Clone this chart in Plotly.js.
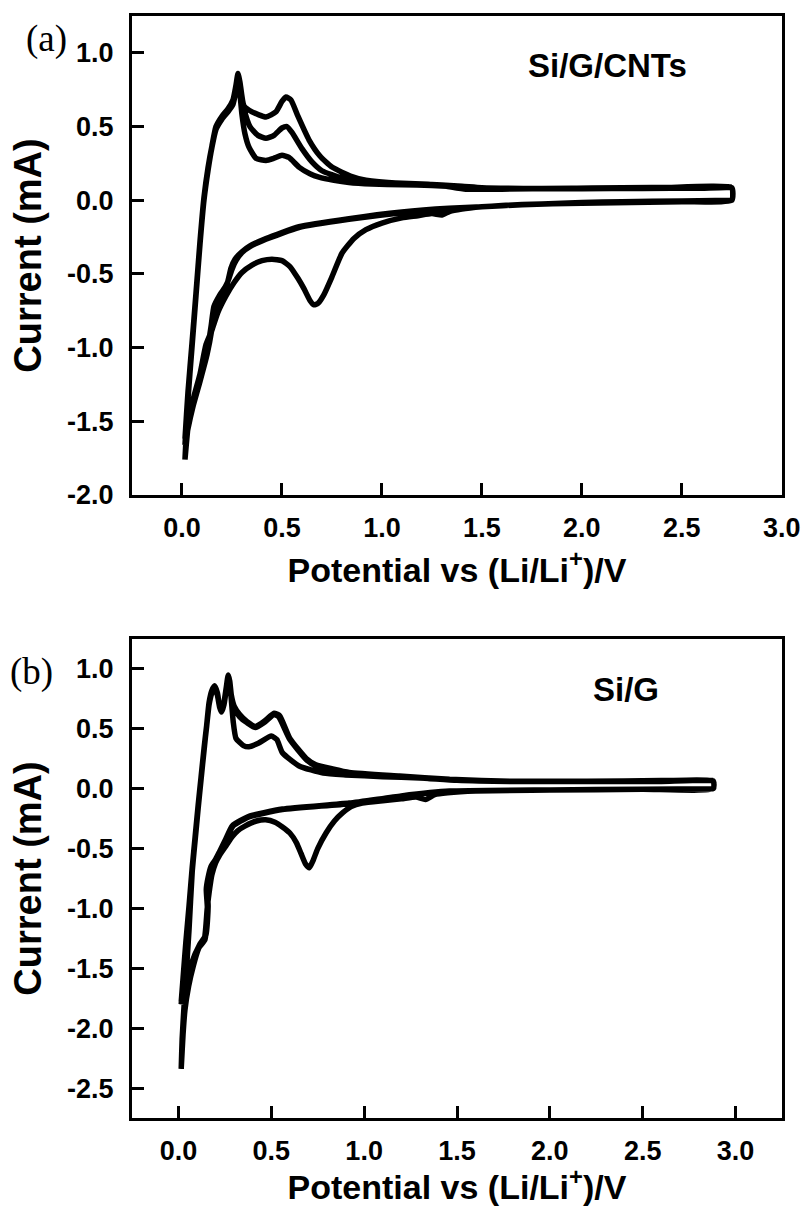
<!DOCTYPE html>
<html>
<head>
<meta charset="utf-8">
<script src="https://cdn.plot.ly/plotly-3.0.1.min.js"></script>
<style>html,body{margin:0;padding:0;background:#fff;}#chart{width:803px;height:1206px;}</style>
</head>
<body>
<div id="chart"></div>
<script>
// ---------- Panel (a): Si/G/CNTs ----------
const aCath1X = [2.75, 2.5, 2.2, 2.0, 1.8, 1.6, 1.5, 1.4, 1.34, 1.3, 1.25, 1.18, 1.1, 1.0, 0.92, 0.86, 0.8, 0.75, 0.71, 0.68, 0.66, 0.64, 0.61, 0.58, 0.54, 0.5, 0.45, 0.4, 0.35, 0.3, 0.26, 0.22, 0.18, 0.15, 0.12, 0.09, 0.06, 0.035, 0.015];
const aCath1Y = [0.0, -0.005, -0.01, -0.015, -0.025, -0.035, -0.045, -0.06, -0.075, -0.1, -0.09, -0.105, -0.12, -0.155, -0.2, -0.26, -0.36, -0.52, -0.64, -0.70, -0.71, -0.68, -0.6, -0.53, -0.45, -0.41, -0.40, -0.41, -0.44, -0.49, -0.56, -0.65, -0.76, -0.88, -0.98, -1.18, -1.33, -1.48, -1.76];
const aAnod1X = [0.015, 0.03, 0.05, 0.07, 0.09, 0.11, 0.13, 0.15, 0.17, 0.2, 0.23, 0.255, 0.27, 0.28, 0.29, 0.30, 0.315, 0.335, 0.37, 0.42, 0.46, 0.5, 0.535, 0.585, 0.64, 0.685, 0.76, 0.835, 0.95, 1.1, 1.25, 1.4, 1.5, 1.7, 2.0, 2.3, 2.6, 2.75];
const aAnod1Y = [-1.76, -1.35, -1.0, -0.65, -0.3, 0.0, 0.2, 0.36, 0.48, 0.55, 0.6, 0.65, 0.74, 0.82, 0.72, 0.58, 0.45, 0.36, 0.285, 0.27, 0.285, 0.305, 0.29, 0.225, 0.18, 0.157, 0.135, 0.12, 0.11, 0.105, 0.1, 0.09, 0.08, 0.078, 0.078, 0.08, 0.082, 0.08];
const aCath2X = [2.75, 2.5, 2.0, 1.7, 1.5, 1.335, 1.1, 0.835, 0.585, 0.42, 0.34, 0.30, 0.265, 0.245, 0.225, 0.19, 0.16, 0.145, 0.12, 0.085, 0.05, 0.03, 0.015];
const aCath2Y = [0.0, -0.01, -0.02, -0.03, -0.045, -0.055, -0.08, -0.125, -0.18, -0.26, -0.31, -0.35, -0.40, -0.46, -0.57, -0.64, -0.72, -0.86, -1.07, -1.25, -1.42, -1.55, -1.62];
const aAnod2X = [0.015, 0.03, 0.05, 0.07, 0.09, 0.11, 0.13, 0.15, 0.17, 0.2, 0.23, 0.255, 0.27, 0.28, 0.29, 0.31, 0.34, 0.38, 0.42, 0.46, 0.5, 0.525, 0.55, 0.6, 0.65, 0.7, 0.8, 0.9, 1.0, 1.2, 1.4, 1.5, 1.8, 2.1, 2.4, 2.75];
const aAnod2Y = [-1.62, -1.3, -0.97, -0.63, -0.28, 0.02, 0.22, 0.37, 0.49, 0.56, 0.6, 0.66, 0.76, 0.85, 0.76, 0.62, 0.5, 0.44, 0.42, 0.44, 0.49, 0.5, 0.46, 0.35, 0.26, 0.2, 0.15, 0.13, 0.12, 0.11, 0.095, 0.085, 0.08, 0.082, 0.085, 0.085];
const aCath3X = [2.75, 2.5, 2.0, 1.7, 1.5, 1.335, 1.1, 0.835, 0.585, 0.42, 0.34, 0.30, 0.27, 0.25, 0.23, 0.2, 0.165, 0.15, 0.125, 0.09, 0.055, 0.03, 0.015];
const aCath3Y = [0.0, -0.01, -0.02, -0.03, -0.045, -0.058, -0.085, -0.13, -0.185, -0.265, -0.315, -0.355, -0.41, -0.47, -0.55, -0.63, -0.72, -0.87, -1.05, -1.23, -1.4, -1.55, -1.66];
const aAnod3X = [0.015, 0.03, 0.05, 0.07, 0.09, 0.11, 0.13, 0.15, 0.17, 0.2, 0.23, 0.255, 0.27, 0.28, 0.29, 0.31, 0.35, 0.42, 0.47, 0.5, 0.52, 0.545, 0.58, 0.635, 0.69, 0.75, 0.85, 0.92, 1.085, 1.2, 1.3, 1.42, 1.6, 1.9, 2.2, 2.5, 2.75];
const aAnod3Y = [-1.66, -1.32, -0.98, -0.64, -0.29, 0.01, 0.21, 0.37, 0.5, 0.57, 0.62, 0.68, 0.78, 0.86, 0.8, 0.64, 0.6, 0.565, 0.6, 0.67, 0.70, 0.68, 0.57, 0.41, 0.3, 0.225, 0.16, 0.136, 0.115, 0.11, 0.1, 0.075, 0.075, 0.08, 0.085, 0.088, 0.09];

// ---------- Panel (b): Si/G ----------
const bCath1X = [2.88, 2.5, 2.0, 1.6, 1.45, 1.38, 1.33, 1.28, 1.2, 1.1, 0.99, 0.93, 0.885, 0.84, 0.795, 0.75, 0.725, 0.705, 0.685, 0.66, 0.635, 0.6, 0.56, 0.52, 0.47, 0.42, 0.36, 0.32, 0.29, 0.255, 0.22, 0.2, 0.18, 0.165, 0.155, 0.14, 0.11, 0.08, 0.055, 0.035, 0.025, 0.015];
const bCath1Y = [0.0, -0.005, -0.01, -0.02, -0.035, -0.05, -0.09, -0.07, -0.085, -0.1, -0.12, -0.15, -0.2, -0.27, -0.37, -0.5, -0.6, -0.66, -0.63, -0.54, -0.45, -0.37, -0.32, -0.28, -0.26, -0.27, -0.31, -0.35, -0.4, -0.48, -0.56, -0.62, -0.72, -0.87, -1.0, -1.25, -1.33, -1.48, -1.65, -1.85, -2.05, -2.34];
const bAnod1X = [0.015, 0.02, 0.03, 0.04, 0.057, 0.074, 0.09, 0.106, 0.122, 0.138, 0.152, 0.165, 0.18, 0.195, 0.21, 0.222, 0.232, 0.245, 0.258, 0.268, 0.276, 0.285, 0.295, 0.31, 0.35, 0.38, 0.43, 0.5, 0.53, 0.56, 0.65, 0.78, 0.9, 1.1, 1.3, 1.5, 1.8, 2.2, 2.6, 2.88];
const bAnod1Y = [-2.34, -2.09, -1.82, -1.59, -1.18, -0.7, -0.43, -0.17, 0.08, 0.32, 0.53, 0.72, 0.82, 0.86, 0.8, 0.68, 0.64, 0.7, 0.85, 0.95, 0.9, 0.74, 0.56, 0.42, 0.36, 0.35, 0.38, 0.44, 0.41, 0.3, 0.19, 0.13, 0.115, 0.1, 0.09, 0.07, 0.06, 0.06, 0.06, 0.06];
const bCath2X = [2.88, 2.5, 2.0, 1.46, 1.2, 0.92, 0.56, 0.38, 0.29, 0.255, 0.22, 0.2, 0.175, 0.16, 0.15, 0.156, 0.143, 0.11, 0.066, 0.039, 0.015];
const bCath2Y = [0.0, -0.005, -0.01, -0.02, -0.06, -0.12, -0.17, -0.23, -0.31, -0.42, -0.53, -0.59, -0.65, -0.74, -0.84, -1.0, -1.26, -1.33, -1.48, -1.67, -1.8];
const bAnod2X = [0.015, 0.025, 0.04, 0.057, 0.074, 0.09, 0.106, 0.122, 0.138, 0.152, 0.165, 0.18, 0.195, 0.21, 0.222, 0.232, 0.245, 0.258, 0.268, 0.276, 0.285, 0.3, 0.33, 0.37, 0.415, 0.46, 0.515, 0.54, 0.6, 0.69, 0.74, 0.83, 0.92, 1.19, 1.46, 1.8, 2.2, 2.6, 2.88];
const bAnod2Y = [-1.8, -1.6, -1.3, -1.0, -0.68, -0.42, -0.16, 0.09, 0.33, 0.52, 0.7, 0.8, 0.84, 0.78, 0.68, 0.65, 0.7, 0.83, 0.92, 0.88, 0.76, 0.67, 0.6, 0.55, 0.51, 0.55, 0.62, 0.6, 0.41, 0.24, 0.19, 0.16, 0.13, 0.1, 0.075, 0.06, 0.06, 0.065, 0.065];
const bCath3X = [2.88, 2.5, 2.0, 1.46, 1.2, 0.92, 0.56, 0.38, 0.295, 0.26, 0.225, 0.205, 0.18, 0.165, 0.155, 0.16, 0.148, 0.115, 0.07, 0.04, 0.015];
const bCath3Y = [0.0, -0.005, -0.012, -0.022, -0.062, -0.125, -0.175, -0.235, -0.31, -0.41, -0.52, -0.58, -0.64, -0.73, -0.83, -0.98, -1.22, -1.3, -1.46, -1.66, -1.78];
const bAnod3X = [0.015, 0.025, 0.04, 0.057, 0.074, 0.09, 0.106, 0.122, 0.138, 0.152, 0.165, 0.18, 0.195, 0.21, 0.222, 0.232, 0.245, 0.258, 0.268, 0.276, 0.285, 0.3, 0.33, 0.37, 0.415, 0.46, 0.515, 0.545, 0.6, 0.69, 0.74, 0.83, 0.92, 1.19, 1.46, 1.8, 2.2, 2.6, 2.88];
const bAnod3Y = [-1.78, -1.58, -1.28, -0.98, -0.66, -0.4, -0.14, 0.1, 0.34, 0.53, 0.71, 0.81, 0.85, 0.79, 0.69, 0.66, 0.72, 0.85, 0.94, 0.9, 0.78, 0.69, 0.62, 0.56, 0.52, 0.56, 0.63, 0.61, 0.42, 0.25, 0.2, 0.165, 0.135, 0.105, 0.078, 0.062, 0.062, 0.068, 0.068];

// ---------- Ticks and text ----------
const xTickVals = [0.0, 0.5, 1.0, 1.5, 2.0, 2.5, 3.0];
const aYTickVals = [-2.0, -1.5, -1.0, -0.5, 0.0, 0.5, 1.0];
const bYTickVals = [-2.5, -2.0, -1.5, -1.0, -0.5, 0.0, 0.5, 1.0];
const xTitle = 'Potential vs (Li/Li<sup>+</sup>)/V';
const yTitle = 'Current (mA)';
const panelLabels = ['(a)', '(b)'];
const sampleNames = ['Si/G/CNTs', 'Si/G'];

const lab = v => v.toFixed(1); // hyphen-minus labels as in the original

const lineStyle = {color: '#000', width: 5.5, shape: 'spline', smoothing: 0.5};
const traces = [
  {x: [].concat(aCath1X, aAnod1X, aCath2X, aAnod2X, aCath3X, aAnod3X),
   y: [].concat(aCath1Y, aAnod1Y, aCath2Y, aAnod2Y, aCath3Y, aAnod3Y),
   xaxis: 'x', yaxis: 'y', mode: 'lines', line: lineStyle, showlegend: false, hoverinfo: 'skip'},
  {x: [].concat(bCath1X, bAnod1X, bCath2X, bAnod2X, bCath3X, bAnod3X),
   y: [].concat(bCath1Y, bAnod1Y, bCath2Y, bAnod2Y, bCath3Y, bAnod3Y),
   xaxis: 'x2', yaxis: 'y2', mode: 'lines', line: lineStyle, showlegend: false, hoverinfo: 'skip'}
];

const F = '"Liberation Sans", Arial, Helvetica, sans-serif';
const tickFont = {family: F, size: 27, color: '#000', weight: 'bold'};
function xAx(range, anchor) {
  return {domain: [132/803, 782/803], anchor: anchor, range: range,
    tickmode: 'array', tickvals: xTickVals, ticktext: xTickVals.map(lab),
    showline: true, linewidth: 3, linecolor: '#000', mirror: true, ticks: 'inside', ticklen: 12, tickwidth: 3,
    tickcolor: '#000', showgrid: false, zeroline: false, tickfont: tickFont, ticklabelstandoff: 7,
    title: {text: xTitle, font: {family: F, size: 34, color: '#000', weight: 'bold'}, standoff: 16}, automargin: false};
}
function yAx(range, domain, anchor, vals) {
  return {domain: domain, anchor: anchor, range: range,
    tickmode: 'array', tickvals: vals, ticktext: vals.map(lab),
    showline: true, linewidth: 3, linecolor: '#000', mirror: true, ticks: 'inside', ticklen: 12, tickwidth: 3,
    tickcolor: '#000', showgrid: false, zeroline: false, tickfont: tickFont, ticklabelstandoff: 10,
    title: {text: yTitle, font: {family: F, size: 38, color: '#000', weight: 'bold'}, standoff: 14}, automargin: false};
}

const layout = {
  width: 803, height: 1206, margin: {l: 0, r: 0, t: 0, b: 0},
  paper_bgcolor: '#fff', plot_bgcolor: '#fff', showlegend: false,
  xaxis: xAx([-0.25, 3.001], 'y'),
  yaxis: yAx([-2.0, 1.25], [1 - 495/1206, 1 - 16/1206], 'x', aYTickVals),
  xaxis2: xAx([-0.25, 3.25], 'y2'),
  yaxis2: yAx([-2.75, 1.25], [1 - 1118/1206, 1 - 639/1206], 'x2', bYTickVals),
  annotations: [
    {text: panelLabels[0], xref: 'paper', yref: 'paper', x: 46/803, y: 1 - 39/1206, xanchor: 'center', yanchor: 'middle', showarrow: false,
     font: {family: '"Liberation Serif", "Times New Roman", serif', size: 37, color: '#000'}},
    {text: panelLabels[1], xref: 'paper', yref: 'paper', x: 31/803, y: 1 - 672/1206, xanchor: 'center', yanchor: 'middle', showarrow: false,
     font: {family: '"Liberation Serif", "Times New Roman", serif', size: 37, color: '#000'}},
    {text: sampleNames[0], xref: 'paper', yref: 'paper', x: 607/803, y: 1 - 65/1206, xanchor: 'center', yanchor: 'middle', showarrow: false,
     font: {family: F, size: 33, color: '#000', weight: 'bold'}},
    {text: sampleNames[1], xref: 'paper', yref: 'paper', x: 626/803, y: 1 - 689/1206, xanchor: 'center', yanchor: 'middle', showarrow: false,
     font: {family: F, size: 33, color: '#000', weight: 'bold'}}
  ]
};

Plotly.newPlot('chart', traces, layout, {staticPlot: true, displayModeBar: false});
</script>
</body>
</html>
